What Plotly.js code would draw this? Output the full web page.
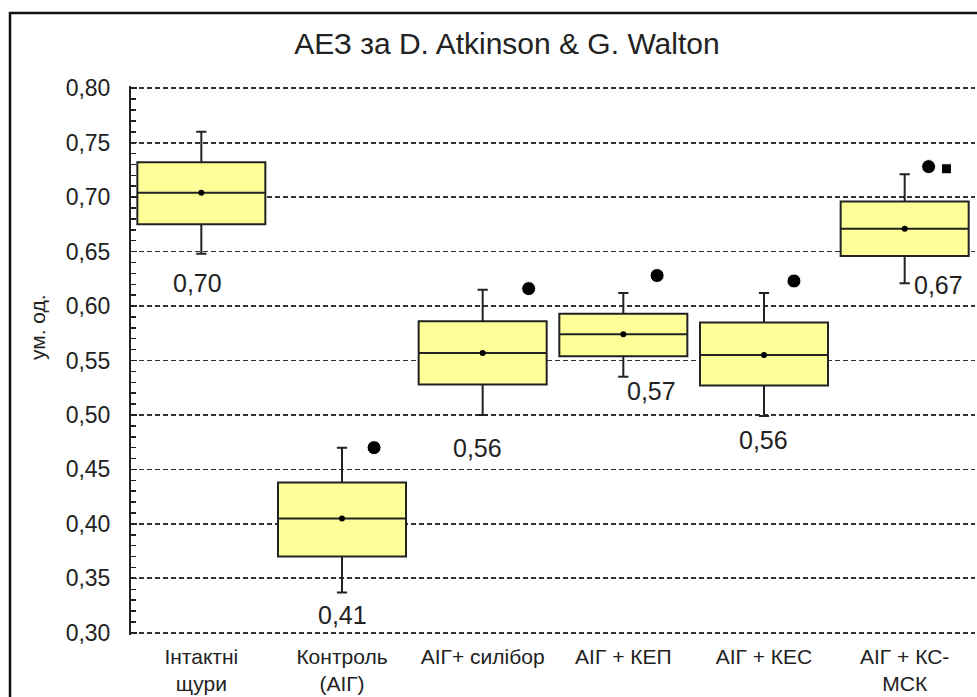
<!DOCTYPE html>
<html><head><meta charset="utf-8">
<script src="https://cdn.plot.ly/plotly-3.0.1.min.js"></script>
<style>html,body{margin:0;padding:0;background:#fff;overflow:hidden}#chart{width:977px;height:697px}</style>
</head><body><div id="chart"></div>
<script>
// ---- data ----
const categories = ['Інтактні<br>щури', 'Контроль<br>(АІГ)', 'АІГ+ силібор', 'АІГ + КЕП', 'АІГ + КЕС', 'АІГ + КС-<br>МСК'];
const q1 = [0.675, 0.370, 0.528, 0.554, 0.527, 0.646];
const median = [0.704, 0.405, 0.557, 0.574, 0.555, 0.671];
const q3 = [0.732, 0.438, 0.586, 0.593, 0.585, 0.696];
const lowerWhisker = [0.648, 0.337, 0.500, 0.535, 0.499, 0.621];
const upperWhisker = [0.760, 0.470, 0.615, 0.612, 0.612, 0.721];
const meanLabels = [0.70, 0.41, 0.56, 0.57, 0.56, 0.67];
const outlierBox = [1, 2, 3, 4, 5, 5];
const outlierValues = [0.470, 0.616, 0.628, 0.623, 0.728, 0.726];

// ---- styles / positions ----
const outlierOffset = [0.228, 0.327, 0.24, 0.213, 0.17, 0.297];
const outlierSymbol = ['circle', 'circle', 'circle', 'circle', 'circle', 'square'];
const outlierSize = [14, 14, 14, 14, 14, 10];
const labelXShift = [-4, 0, -5, 28, -1, 34];
const labelYShift = [-29, -22, -33, -14, -24, -2];

const W = 977, H = 697;
const M = {l: 131, r: 2, t: 86, b: 62};
const PW = W - M.l - M.r, PH = H - M.t - M.b;
const px = x => (x - M.l) / PW;
const py = y => (H - M.b - y) / PH;

const idx = categories.map((_, i) => i);
const ink = '#222';
const fontFamily = 'Liberation Sans, Arial, sans-serif';

const traces = [
  {
    type: 'box', x: idx, q1: q1, median: median, q3: q3,
    lowerfence: lowerWhisker, upperfence: upperWhisker,
    width: 0.91, whiskerwidth: 0.08, boxpoints: false,
    fillcolor: '#FFFF99', line: {color: ink, width: 2},
    hoverinfo: 'skip', showlegend: false
  },
  {
    type: 'scatter', mode: 'markers', x: idx, y: median,
    marker: {color: '#000', size: 6, opacity: 1}, hoverinfo: 'skip', showlegend: false
  },
  {
    type: 'scatter', mode: 'markers',
    x: outlierBox.map((b, i) => b + outlierOffset[i]), y: outlierValues,
    marker: {color: '#000', size: outlierSize, symbol: outlierSymbol, opacity: 1},
    hoverinfo: 'skip', showlegend: false
  }
];

const annotations = meanLabels.map((v, i) => ({
  x: i, y: lowerWhisker[i], xref: 'x', yref: 'y',
  text: v.toFixed(2).replace('.', ','), showarrow: false,
  xshift: labelXShift[i], yshift: labelYShift[i],
  xanchor: 'center', yanchor: 'middle',
  font: {family: fontFamily, size: 25, color: ink}
}));
annotations.push({
  xref: 'paper', yref: 'paper', x: px(37), y: py(327), text: 'ум. од.',
  textangle: -90, showarrow: false, xanchor: 'center', yanchor: 'middle',
  font: {family: fontFamily, size: 21, color: ink}
});

const layout = {
  width: W, height: H, margin: M,
  paper_bgcolor: '#fff', plot_bgcolor: '#fff',
  separators: ', ',
  font: {family: fontFamily, color: ink},
  title: {
    text: 'АЕЗ за D. Atkinson &amp; G. Walton',
    xref: 'container', yref: 'container', x: 507 / W, y: 1 - 43 / H,
    xanchor: 'center', yanchor: 'middle',
    font: {size: 30, color: ink}
  },
  xaxis: {
    range: [-0.5, 5.5], tickvals: idx, ticktext: categories,
    showgrid: false, zeroline: false, showline: false, ticks: '',
    tickfont: {size: 21, color: ink}, ticklabelstandoff: 7
  },
  yaxis: {
    range: [0.298, 0.802], tick0: 0.30, dtick: 0.05, tickformat: '.2f',
    showline: true, linecolor: ink, linewidth: 2,
    ticks: 'inside', ticklen: 6, tickwidth: 1.5, tickcolor: ink,
    minor: {dtick: 0.01, ticks: 'inside', ticklen: 5, tickwidth: 1.5, tickcolor: ink, showgrid: false},
    showgrid: true, gridcolor: '#333', gridwidth: 1.8, griddash: '5px,3px',
    zeroline: false, tickfont: {size: 23, color: ink},
    ticklabelstandoff: 14
  },
  annotations: annotations,
  shapes: [{
    type: 'rect', xref: 'paper', yref: 'paper',
    x0: px(10), x1: px(1000), y0: py(720), y1: py(13),
    line: {color: '#111', width: 2.5}, fillcolor: 'rgba(0,0,0,0)', layer: 'below'
  }]
};

Plotly.newPlot('chart', traces, layout, {displayModeBar: false, staticPlot: true});
</script>
</body></html>
